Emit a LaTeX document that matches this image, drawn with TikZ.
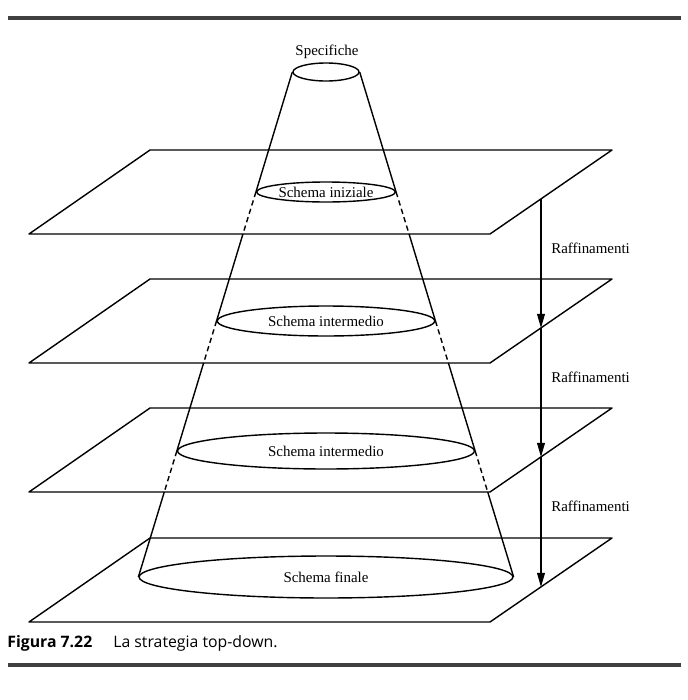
\documentclass[tikz,border=0pt]{standalone}
\usepackage{fontspec}
\setmainfont{Liberation Serif}
\newfontfamily\capfont{Open Sans}
\usetikzlibrary{calc,arrows.meta,shapes.geometric}

\begin{document}
\begin{tikzpicture}[x=0.02cm,y=-0.02cm]
  \tikzset{plane/.style={draw,line width=0.8pt,line join=round},
    cone/.style={line width=0.8pt},
    hidden/.style={cone,dash pattern=on 3pt off 2pt},
    cut/.style 2 args={draw,ellipse,line width=0.8pt,inner sep=0pt,
      minimum width=#1*0.04cm,minimum height=#2*0.04cm,font=\fontsize{8.5}{10}\selectfont},
    lbl/.style={font=\fontsize{8.5}{10}\selectfont,inner sep=0pt},
    bar/.style={line width=2.8pt,color=black!75}}
  \useasboundingbox (0,0) rectangle (687,700);

  % planes
  \foreach \y [count=\i] in {150,279,408,538}{
    \coordinate (bl\i) at (150,\y);
    \coordinate (br\i) at (612,\y);
    \coordinate (fr\i) at (490,\y+84);
    \coordinate (fl\i) at (29,\y+84);
    \draw[plane] (bl\i) -- (br\i) -- (fr\i) -- (fl\i) -- cycle;
    \coordinate (a\i) at ($(br\i)!0.582!(fr\i)$);
  }

  % sections of the cone
  \node[cut={33}{9}] (spec) at (326,72) {};
  \node[cut={69.4}{10}] (iniz) at (326,192) {Schema iniziale};
  \node[cut={108.8}{15}] (inter1) at (326,321) {Schema intermedio};
  \node[cut={148.5}{18}] (inter2) at (326,451) {Schema intermedio};
  \node[cut={187}{21}] (fin) at (326,577) {Schema finale};
  \node[lbl] (specl) at (327,52) {Specifiche};

  % sides, dashed under each plane
  \foreach \s in {west,east}{
    \draw[cone] (spec.\s) -- (iniz.\s);
    \foreach \a/\b/\t in {iniz/inter1/0.321,inter1/inter2/0.576,inter2/fin/0.832}{
      \draw[hidden] (\a.\s) -- ($(spec.\s)!\t!(fin.\s)$);
      \draw[cone] ($(spec.\s)!\t!(fin.\s)$) -- (\b.\s);
    }
  }

  % refinements
  \foreach \i/\j in {1/2,2/3,3/4}{
    \draw[line width=0.6pt,-{Triangle[length=8pt,width=4.5pt]}] (a\i) -- (a\j);
    \node[lbl,anchor=west] (r\i) at ($(a\i)!0.38!(a\j)+(10,0)$) {Raffinamenti};
  }

  \draw[bar] (8,18) -- (681,18);
  \draw[bar] (8,665) -- (681,665);
  \node[anchor=west,inner sep=0pt,font=\capfont\bfseries\fontsize{9}{11}\selectfont] (fig) at (7,643) {Figura 7.22};
  \node[anchor=west,inner sep=0pt,font=\capfont\fontsize{9}{11}\selectfont] (cap) at (113,643) {La strategia top-down.};
\end{tikzpicture}
\end{document}
